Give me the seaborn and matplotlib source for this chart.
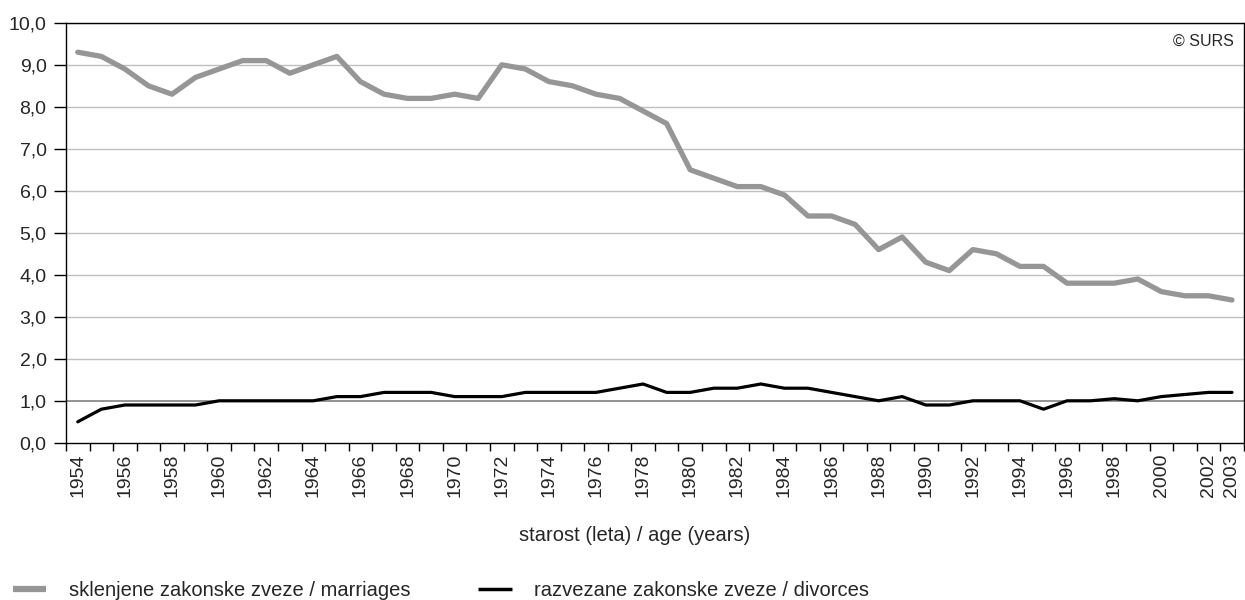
import numpy as np
import pandas as pd
import seaborn as sns
import matplotlib.pyplot as plt
from matplotlib.ticker import FixedLocator, FuncFormatter
from matplotlib.lines import Line2D

years = list(range(1954, 2004))
marriages = [9.3, 9.2, 8.9, 8.5, 8.3, 8.7, 8.9, 9.1, 9.1, 8.8,
             9.0, 9.2, 8.6, 8.3, 8.2, 8.2, 8.3, 8.2, 9.0, 8.9,
             8.6, 8.5, 8.3, 8.2, 7.9, 7.6, 6.5, 6.3, 6.1, 6.1,
             5.9, 5.4, 5.4, 5.2, 4.6, 4.9, 4.3, 4.1, 4.6, 4.5,
             4.2, 4.2, 3.8, 3.8, 3.8, 3.9, 3.6, 3.5, 3.5, 3.4]
divorces = [0.5, 0.8, 0.9, 0.9, 0.9, 0.9, 1.0, 1.0, 1.0, 1.0,
            1.0, 1.1, 1.1, 1.2, 1.2, 1.2, 1.1, 1.1, 1.1, 1.2,
            1.2, 1.2, 1.2, 1.3, 1.4, 1.2, 1.2, 1.3, 1.3, 1.4,
            1.3, 1.3, 1.2, 1.1, 1.0, 1.1, 0.9, 0.9, 1.0, 1.0,
            1.0, 0.8, 1.0, 1.0, 1.05, 1.0, 1.1, 1.15, 1.2, 1.2]
tick_years = list(range(1954, 2003, 2)) + [2003]
series_names = ['sklenjene zakonske zveze / marriages',
                'razvezane zakonske zveze / divorces']

df = pd.DataFrame({'year': years * 2,
                   'value': marriages + divorces,
                   'series': [series_names[0]] * len(years) + [series_names[1]] * len(years)})

sns.set_style('white')
plt.rcParams['font.family'] = ['Liberation Sans', 'DejaVu Sans']

fig = plt.figure(figsize=(12.45, 6), dpi=100)
ax = fig.add_axes([0.053, 0.262, 0.946, 0.7])

for y in range(1, 11):
    ax.axhline(y, color='#808080' if y == 1 else '#c0c0c0', lw=1.2 if y == 1 else 1.0, zorder=0)

sns.lineplot(data=df, x='year', y='value', hue='series', ax=ax,
             palette=['#969696', '#000000'], legend=False)
ax.lines[-2].set_linewidth(3.8)
ax.lines[-1].set_linewidth(2.3)

ax.set_xlim(1953.5, 2003.5)
ax.set_ylim(0, 10)
ax.set_yticks(np.arange(0, 11, 1))
ax.yaxis.set_major_formatter(FuncFormatter(lambda v, p: f'{v:.1f}'.replace('.', ',')))
ax.set_xticks(tick_years)
ax.set_xticklabels([str(t) for t in tick_years], rotation=90)
ax.xaxis.set_minor_locator(FixedLocator(np.arange(1953.5, 2004, 1)))
ax.tick_params(axis='x', which='major', length=0, labelsize=14, pad=8)
ax.tick_params(axis='x', which='minor', length=6, width=1, color='black', direction='out', bottom=True)
ax.tick_params(axis='y', length=9, width=1, color='black', direction='out', left=True, labelsize=14, pad=5)
for s in ax.spines.values():
    s.set_visible(True)
    s.set_color('black')
    s.set_linewidth(1.0)
ax.set_xlabel('')
ax.set_ylabel('')

ax.text(0.992, 0.955, '© SURS', transform=ax.transAxes, ha='right', va='center', fontsize=11.5)
fig.text(0.51, 0.108, 'starost (leta) / age (years)', ha='center', va='center', fontsize=14.5)

handles = [Line2D([], [], color='#969696', lw=4.5, solid_capstyle='butt'),
           Line2D([], [], color='black', lw=2.5, solid_capstyle='butt')]
fig.legend(handles, series_names, loc='lower left', bbox_to_anchor=(-0.004, -0.03), ncol=2,
           frameon=False, fontsize=14.5, handlelength=1.65, columnspacing=3.4, handletextpad=1.1)

fig.savefig('out.png', dpi=100)
